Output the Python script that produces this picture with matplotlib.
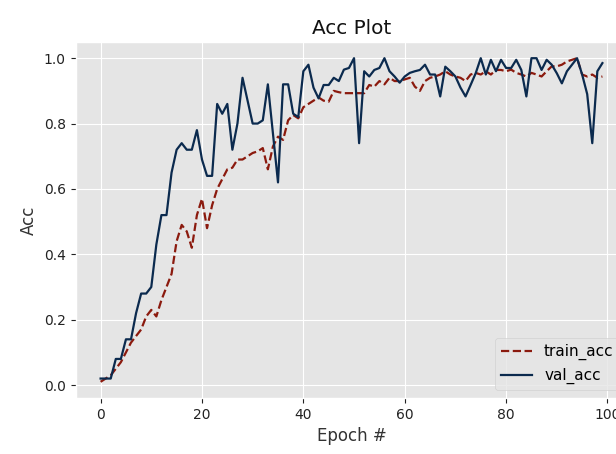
import matplotlib
matplotlib.use("Agg")
import matplotlib.pyplot as plt
import numpy as np

epochs = list(range(100))

train_acc = [
    0.01, 0.02, 0.03, 0.05, 0.07, 0.10, 0.13, 0.15, 0.17, 0.21,
    0.23, 0.21, 0.26, 0.30, 0.34, 0.44, 0.49, 0.47, 0.42, 0.52,
    0.57, 0.48, 0.55, 0.60, 0.63, 0.66, 0.665, 0.69, 0.69, 0.70,
    0.71, 0.715, 0.725, 0.66, 0.73, 0.76, 0.75, 0.81, 0.826, 0.816,
    0.85, 0.86, 0.87, 0.88, 0.87, 0.867, 0.90, 0.896, 0.893, 0.893,
    0.893, 0.893, 0.893, 0.918, 0.913, 0.93, 0.92, 0.94, 0.93, 0.93,
    0.935, 0.94, 0.913, 0.90, 0.93, 0.94, 0.944, 0.95, 0.96, 0.95,
    0.944, 0.94, 0.93, 0.95, 0.955, 0.95, 0.96, 0.95, 0.964, 0.964,
    0.96, 0.965, 0.955, 0.95, 0.944, 0.955, 0.95, 0.944, 0.96, 0.975,
    0.975, 0.98, 0.99, 0.995, 1.0, 0.95, 0.944, 0.95, 0.94, 0.944,
]

val_acc = [
    0.02, 0.02, 0.02, 0.08, 0.08, 0.14, 0.14, 0.22, 0.28, 0.28,
    0.30, 0.43, 0.52, 0.52, 0.65, 0.72, 0.74, 0.72, 0.72, 0.78,
    0.69, 0.64, 0.64, 0.86, 0.83, 0.86, 0.72, 0.80, 0.94, 0.87,
    0.80, 0.80, 0.81, 0.92, 0.77, 0.62, 0.92, 0.92, 0.83, 0.82,
    0.96, 0.98, 0.91, 0.877, 0.918, 0.918, 0.94, 0.93, 0.965, 0.97,
    1.0, 0.74, 0.96, 0.944, 0.964, 0.97, 1.0, 0.96, 0.944, 0.925,
    0.944, 0.955, 0.96, 0.964, 0.98, 0.95, 0.95, 0.883, 0.974, 0.96,
    0.944, 0.91, 0.883, 0.918, 0.954, 1.0, 0.95, 0.995, 0.96, 0.995,
    0.97, 0.97, 0.995, 0.964, 0.883, 1.0, 1.0, 0.964, 0.995, 0.98,
    0.954, 0.923, 0.96, 0.98, 1.0, 0.95, 0.89, 0.74, 0.96, 0.985,
]

plt.style.use("ggplot")
fig = plt.figure(figsize=(6.16, 4.54), dpi=100)
ax = fig.add_axes([75.5 / 616, 56 / 454, 552 / 616, 356 / 454])

ax.plot(epochs, train_acc, linestyle="--", color="#8B1A0E", linewidth=1.6, label="train_acc")
ax.plot(epochs, val_acc, linestyle="-", color="#0B2A4E", linewidth=1.6, label="val_acc")

ax.set_title("Acc Plot", color="#111111")
ax.set_xlabel("Epoch #", color="#333333")
ax.set_ylabel("Acc", color="#333333")
ax.set_xticks([0, 20, 40, 60, 80, 100])
ax.set_yticks([0.0, 0.2, 0.4, 0.6, 0.8, 1.0])
ax.tick_params(colors="#222222")
ax.legend(loc="lower right", fontsize=11)

fig.savefig("out.png", dpi=100)
